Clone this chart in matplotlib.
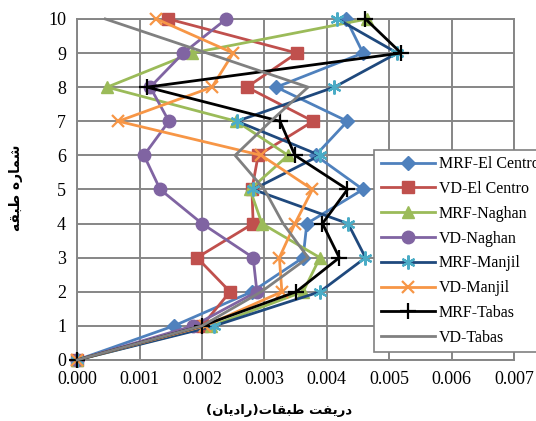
import numpy as np
import matplotlib
matplotlib.use("Agg")
import matplotlib.pyplot as plt

# story levels and inter-story drift (radian) for each model / record
stories = [0, 1, 2, 3, 4, 5, 6, 7, 8, 9, 10]
mrf_elcentro = [0, 0.00155, 0.00280, 0.00362, 0.00368, 0.00458, 0.00382, 0.00433, 0.00319, 0.00458, 0.00431]
vd_elcentro = [0, 0.00200, 0.00245, 0.00192, 0.00282, 0.00280, 0.00290, 0.00378, 0.00272, 0.00352, 0.00146]
mrf_naghan = [0, 0.00215, 0.00362, 0.00389, 0.00296, 0.00277, 0.00338, 0.00255, 0.00048, 0.00184, 0.00465]
vd_naghan = [0, 0.00186, 0.00288, 0.00282, 0.00200, 0.00133, 0.00107, 0.00147, 0.00117, 0.00170, 0.00239]
mrf_manjil = [0, 0.00220, 0.00389, 0.00462, 0.00434, 0.00282, 0.00389, 0.00256, 0.00412, 0.00513, 0.00417]
vd_manjil = [0, 0.00205, 0.00328, 0.00324, 0.00349, 0.00377, 0.00295, 0.00066, 0.00216, 0.00250, 0.00127]
mrf_tabas = [0, 0.00200, 0.00351, 0.00420, 0.00393, 0.00433, 0.00349, 0.00325, 0.00112, 0.00519, 0.00462]
vd_tabas = [0, 0.00200, 0.00295, 0.00370, 0.00330, 0.00300, 0.00253, 0.00310, 0.00370, 0.00208, 0.00045]

series = [
    ("MRF-El Centro", mrf_elcentro, "#4F81BD", dict(marker="D", ms=7, mfc="#4F81BD", mec="#4F81BD")),
    ("VD-El Centro", vd_elcentro, "#C0504D", dict(marker="s", ms=8, mfc="#C0504D", mec="#C0504D")),
    ("MRF-Naghan", mrf_naghan, "#9BBB59", dict(marker="^", ms=9, mfc="#9BBB59", mec="#9BBB59")),
    ("VD-Naghan", vd_naghan, "#8064A2", dict(marker="o", ms=9, mfc="#8064A2", mec="#8064A2")),
    ("MRF-Manjil", mrf_manjil, "#1F497D", dict(marker=(6, 2, 0), ms=10, mec="#4BACC6", mew=1.6)),
    ("VD-Manjil", vd_manjil, "#F79646", dict(marker="x", ms=8, mec="#F79646", mew=1.6)),
    ("MRF-Tabas", mrf_tabas, "#000000", dict(marker="+", ms=11, mec="#000000", mew=1.6)),
    ("VD-Tabas", vd_tabas, "#808080", dict(marker="None")),
]

# contextual glyph forms (isolated, final, initial, medial) for the Persian labels
FORMS = {
    "ا": "\ufe8d\ufe8e", "د": "\ufea9\ufeaa", "ر": "\ufead\ufeae",
    "ب": "\ufe8f\ufe90\ufe91\ufe92", "ت": "\ufe95\ufe96\ufe97\ufe98",
    "ش": "\ufeb5\ufeb6\ufeb7\ufeb8", "ط": "\ufec1\ufec2\ufec3\ufec4",
    "ف": "\ufed1\ufed2\ufed3\ufed4", "ق": "\ufed5\ufed6\ufed7\ufed8",
    "م": "\ufee1\ufee2\ufee3\ufee4", "ن": "\ufee5\ufee6\ufee7\ufee8",
    "ه": "\ufee9\ufeea\ufeeb\ufeec", "ی": "\ufeef\ufef0\ufef3\ufef4",
}


def farsi(text):
    out = []
    for i, ch in enumerate(text):
        forms = FORMS.get(ch)
        if forms is None:
            out.append(ch)
            continue
        prev = text[i - 1] if i > 0 else ""
        nxt = text[i + 1] if i + 1 < len(text) else ""
        joins_prev = prev in FORMS and len(FORMS[prev]) == 4
        joins_next = len(forms) == 4 and nxt in FORMS
        if joins_prev and joins_next:
            out.append(forms[3])
        elif joins_next:
            out.append(forms[2])
        elif joins_prev:
            out.append(forms[1])
        else:
            out.append(forms[0])
    vis = "".join(reversed(out))
    return vis.translate(str.maketrans("()", ")("))


plt.rcParams["font.family"] = ["Liberation Serif", "DejaVu Sans"]

fig = plt.figure(figsize=(5.36, 4.21), dpi=100)
ax = fig.add_axes([0.144, 0.145, 0.815, 0.81])

for name, vals, color, mk in series:
    ax.plot(vals, stories, color=color, lw=2.0, label=name, clip_on=False, zorder=3, **mk)

ax.set_xlim(0, 0.007)
ax.set_ylim(0, 10)
ax.set_xticks(np.arange(0, 0.0071, 0.001))
ax.set_yticks(stories)
ax.xaxis.set_major_formatter(matplotlib.ticker.FormatStrFormatter("%.3f"))
ax.tick_params(length=0, labelsize=13, pad=8)
ax.grid(True, color="#868686", lw=1.4)
ax.set_axisbelow(True)
for sp in ax.spines.values():
    sp.set_color("#868686")
    sp.set_linewidth(1.4)

leg = ax.legend(loc="upper left", bbox_to_anchor=(0.68, 0.616), fontsize=11.5,
                frameon=True, fancybox=False, edgecolor="#808080", framealpha=1,
                handlelength=3.4, handletextpad=0.25, labelspacing=0.55,
                borderpad=0.4, borderaxespad=0)
leg.get_frame().set_linewidth(1.2)

fig.text(0.52, 0.026, farsi("دریفت طبقات(رادیان)"), ha="center", va="center",
         fontsize=9.5, fontweight="bold", family="DejaVu Sans")
fig.text(0.03, 0.553, farsi("شماره طبقه"), ha="center", va="center", rotation=90,
         fontsize=10, fontweight="bold", family="DejaVu Sans")

fig.savefig("out.png", dpi=100)
